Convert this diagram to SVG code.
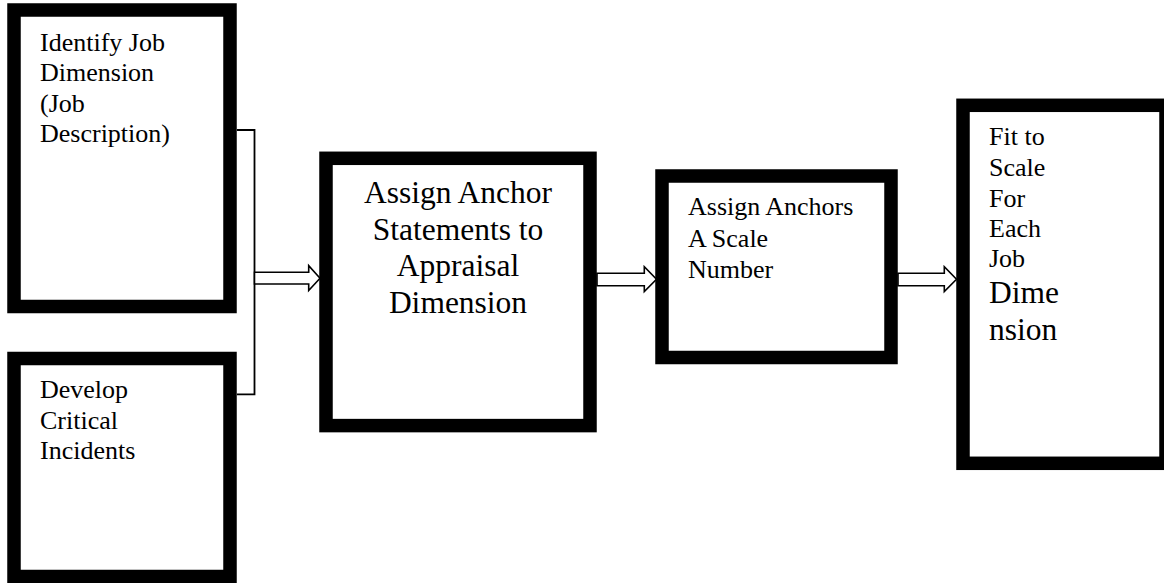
<svg xmlns="http://www.w3.org/2000/svg" width="1164" height="583" viewBox="0 0 1164 583">
<style>
.box{fill:#fff;stroke:#000;stroke-width:13.5}
text{font-family:'Liberation Serif','Times New Roman',serif;fill:#000}
.t{font-size:26px}
.tb{font-size:31.5px}
.ln{fill:none;stroke:#000;stroke-width:1.8}
.ar{fill:#fff;stroke:#000;stroke-width:1.6;stroke-linejoin:miter}
</style>
<rect width="1164" height="583" fill="#fff"/>
<g id="connectors">
<path class="ln" d="M237,130 H254.5 V394.3 H237"/>
<path class="ar" d="M254.5,272.3 H308.7 V265.7 L320,278.2 L308.7,290.5 V284 H254.5 Z"/>
<path class="ar" d="M597,273.3 H644.3 V266.7 L656.5,279.2 L644.3,291.5 V285.7 H597 Z"/>
<path class="ar" d="M898,273.3 H944.3 V266.7 L956.5,279.2 L944.3,291.5 V285.7 H898 Z"/>
</g>
<g id="identify">
<rect class="box" x="14" y="10" width="216" height="296.5"/>
<text class="t" x="40" y="50.7">Identify Job</text>
<text class="t" x="40" y="81.2">Dimension</text>
<text class="t" x="40" y="111.5">(Job</text>
<text class="t" x="40" y="141.8">Description)</text>
</g>
<g id="develop">
<rect class="box" x="14" y="358.5" width="216" height="218"/>
<text class="t" x="40" y="398.3">Develop</text>
<text class="t" x="40" y="429">Critical</text>
<text class="t" x="40" y="459.3">Incidents</text>
</g>
<g id="assign-statements">
<rect class="box" x="326" y="158.3" width="264" height="267.3"/>
<text class="tb" x="458" y="203.3" text-anchor="middle">Assign Anchor</text>
<text class="tb" x="458" y="239.5" text-anchor="middle">Statements to</text>
<text class="tb" x="458" y="276" text-anchor="middle">Appraisal</text>
<text class="tb" x="458" y="312.5" text-anchor="middle">Dimension</text>
</g>
<g id="assign-scale">
<rect class="box" x="662" y="176" width="229" height="181.5"/>
<text class="t" x="688" y="215">Assign Anchors</text>
<text class="t" x="688" y="246.7">A Scale</text>
<text class="t" x="688" y="278">Number</text>
</g>
<g id="fit-scale">
<rect class="box" x="963" y="105.3" width="203" height="358"/>
<text class="t" x="989" y="145">Fit to</text>
<text class="t" x="989" y="176">Scale</text>
<text class="t" x="989" y="206.5">For</text>
<text class="t" x="989" y="236.8">Each</text>
<text class="t" x="989" y="267">Job</text>
<text class="tb" x="989" y="303.3">Dime</text>
<text class="tb" x="989" y="340">nsion</text>
</g>
</svg>
